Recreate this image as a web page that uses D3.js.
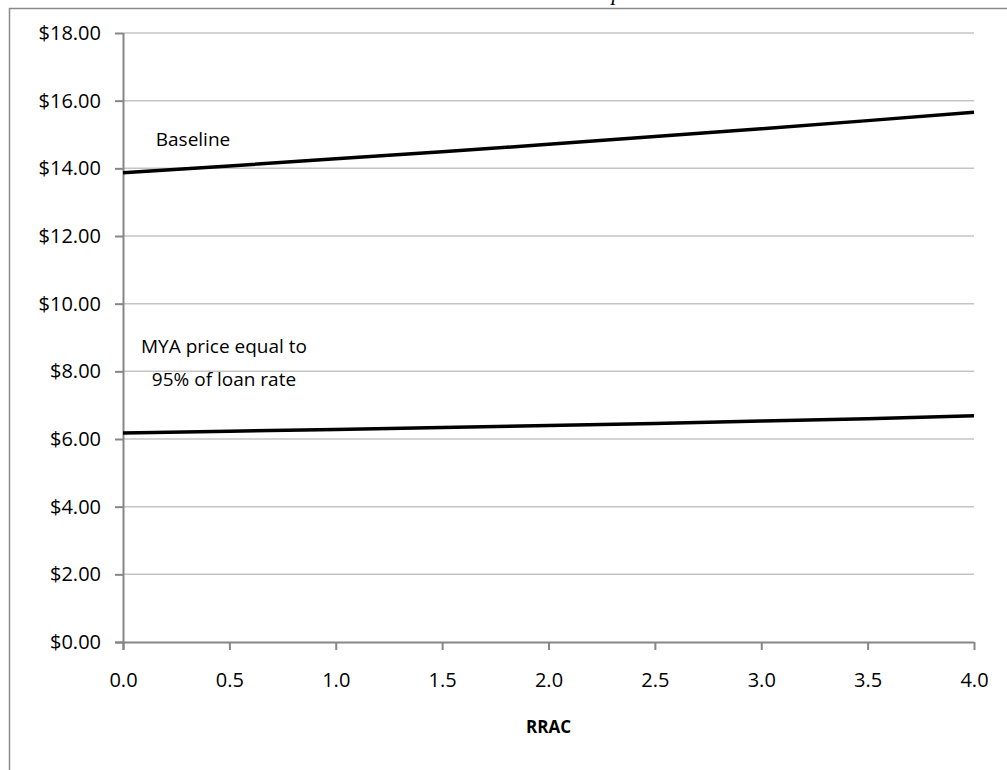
<!DOCTYPE html>
<html>
<head>
<meta charset="utf-8">
<script src="https://cdn.jsdelivr.net/npm/d3@7"></script>
<style>
  html, body { margin: 0; padding: 0; background: #fff; }
  svg { display: block; }
  text { font-family: "Open Sans", "Lato", sans-serif; fill: #000; }
</style>
</head>
<body>
<svg id="chart" width="1007" height="770"></svg>
<script>
// RRAC values on the horizontal axis
const rrac = [0, 0.5, 1, 1.5, 2, 2.5, 3, 3.5, 4];
// Price per unit under each scenario
const baseline = [13.87, 14.07, 14.28, 14.49, 14.71, 14.94, 15.17, 15.41, 15.66];
const myaLoan = [6.18, 6.23, 6.28, 6.34, 6.40, 6.46, 6.53, 6.60, 6.69];
const yTicks = [0, 2, 4, 6, 8, 10, 12, 14, 16, 18];
const xTicks = [0, 0.5, 1, 1.5, 2, 2.5, 3, 3.5, 4];
const baselineLabel = ["Baseline"];
const myaLabel = ["MYA price equal to", "95% of loan rate"];

const svg = d3.select("#chart");

const x = d3.scaleLinear().domain([0, 4]).range([123, 974]);
const y = d3.scaleLinear().domain([0, 18]).range([642, 33]);

// Outer frame
svg.append("path")
  .attr("d", "M9.5,770 V8.5 H1007")
  .attr("fill", "none").attr("stroke", "#8a8a8a").attr("stroke-width", 1.5);

// Title, sitting above the frame
svg.append("text")
  .attr("x", 617).attr("y", 0)
  .attr("text-anchor", "middle")
  .style("font-family", "Liberation Serif, serif")
  .style("font-style", "italic")
  .style("font-size", "22px")
  .text("p");

// Horizontal gridlines
svg.append("g")
  .selectAll("line")
  .data(yTicks.filter(d => d > 0))
  .join("line")
  .attr("x1", x(0)).attr("x2", x(4))
  .attr("y1", d => y(d)).attr("y2", d => y(d))
  .attr("stroke", "#c4c4c4").attr("stroke-width", 1.5);

// Y axis
const yAxis = svg.append("g")
  .attr("transform", `translate(${x(0)},0)`)
  .call(d3.axisLeft(y).tickValues(yTicks).tickSize(8).tickPadding(14)
    .tickFormat(d => "$" + d3.format(".2f")(d)));

// X axis
const xAxis = svg.append("g")
  .attr("transform", `translate(0,${y(0)})`)
  .call(d3.axisBottom(x).tickValues(xTicks).tickSize(8).tickPadding(23)
    .tickFormat(d3.format(".1f")));

[yAxis, xAxis].forEach(g => {
  g.select(".domain").attr("stroke", "#868686").attr("stroke-width", 2);
  g.selectAll(".tick line").attr("stroke", "#868686").attr("stroke-width", 2);
  g.selectAll(".tick text")
    .attr("fill", "#000")
    .style("font-family", "Open Sans, sans-serif")
    .style("font-size", "20px");
});
xAxis.select(".domain").attr("d", `M${x(0) - 8},0.5H${x(4)}`);
yAxis.select(".domain").attr("d", `M0.5,${y(18)}V${y(0) + 8}`);

// Series lines
const line = d3.line()
  .x((d, i) => x(rrac[i]))
  .y(d => y(d));

[baseline, myaLoan].forEach(series => {
  svg.append("path")
    .datum(series)
    .attr("d", line)
    .attr("fill", "none")
    .attr("stroke", "#000")
    .attr("stroke-width", 3.5);
});

// Series annotations
function annotate(lines, cx, cy) {
  const t = svg.append("text")
    .attr("text-anchor", "middle")
    .style("font-size", "19px");
  lines.forEach((s, i) => {
    t.append("tspan")
      .attr("x", cx)
      .attr("y", cy)
      .attr("dy", i * 33)
      .text(s);
  });
}
annotate(baselineLabel, 193, 146);
annotate(myaLabel, 224, 353);

// Axis title
svg.append("text")
  .attr("x", x(2)).attr("y", 733)
  .attr("text-anchor", "middle")
  .style("font-size", "17px")
  .style("font-weight", "bold")
  .text("RRAC");
</script>
</body>
</html>
